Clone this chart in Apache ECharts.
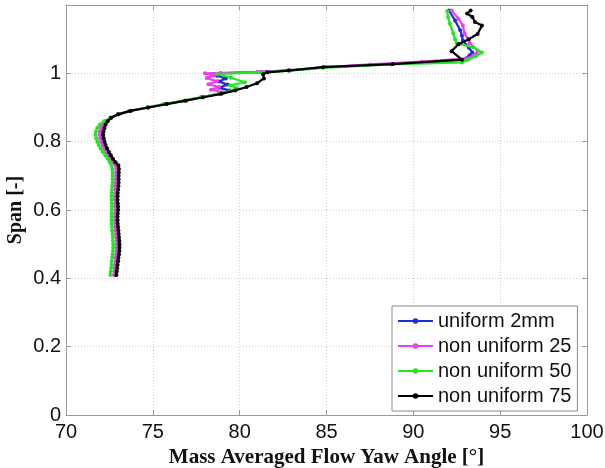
<!DOCTYPE html>
<html>
<head>
<meta charset="utf-8">
<script src="https://cdn.jsdelivr.net/npm/echarts@6/dist/echarts.min.js"></script>
<style>html,body{margin:0;padding:0;background:#fff}#c{width:605px;height:468px}</style>
</head>
<body>
<div id="c"></div>
<script>
// ---- data ----
const seriesNames = ['uniform 2mm', 'non uniform 25', 'non uniform 50', 'non uniform 75'];
const xTicks = [70, 75, 80, 85, 90, 95, 100];
const yTicks = [0, 0.2, 0.4, 0.6, 0.8, 1];

const spanLower = [0.41,0.42,0.43,0.44,0.45,0.46,0.47,0.48,0.49,0.50,
  0.51,0.52,0.53,0.54,0.55,0.56,0.57,0.58,0.59,0.60,
  0.61,0.62,0.63,0.64,0.65,0.66,0.67,0.68,0.69,0.70,
  0.71,0.72,0.73,0.74,0.75,0.76,0.77,0.78,0.79,0.80,
  0.81,0.82,0.83,0.84,0.85,0.86,0.87,0.88,0.89,0.90,
  0.91,0.92,0.93,0.94];

// uniform 2mm (blue)
const blueLower = [72.80,72.82,72.84,72.86,72.88,72.90,72.92,72.95,72.96,72.96,
  72.95,72.93,72.92,72.90,72.88,72.86,72.85,72.85,72.86,72.87,
  72.87,72.86,72.85,72.85,72.86,72.88,72.89,72.90,72.91,72.91,
  72.92,72.92,72.88,72.74,72.60,72.47,72.35,72.23,72.13,72.05,
  72.00,71.97,71.99,72.05,72.15,72.32,72.58,73.02,73.70,74.70,
  75.72,76.82,77.82,78.85];
const blueSpanUpper = [0.95,0.958,0.967,0.976,0.985,0.993,1.000,1.004,1.009,1.018,1.027,1.040,1.053,1.061,1.075,1.096,1.110,1.126,1.155,1.184];
const blueUpper = [79.40,78.80,79.30,78.80,79.20,78.70,78.90,81.20,82.90,84.90,88.80,92.85,93.25,93.40,93.20,92.85,92.80,92.70,92.40,92.05];

// non uniform 25 (magenta)
const magLower = [72.76,72.79,72.81,72.83,72.85,72.87,72.89,72.91,72.93,72.93,
  72.92,72.90,72.88,72.87,72.85,72.83,72.82,72.82,72.83,72.84,
  72.84,72.83,72.82,72.82,72.83,72.85,72.86,72.87,72.88,72.88,
  72.89,72.89,72.85,72.71,72.57,72.44,72.32,72.20,72.10,72.02,
  71.97,71.94,71.96,72.02,72.12,72.30,72.56,73.00,73.68,74.68,
  75.70,76.80,77.80,78.80];
const magSpanUpper = [0.945,0.952,0.960,0.968,0.977,0.986,0.994,1.000,1.004,1.009,1.018,1.026,1.034,1.044,1.058,1.067,1.088,1.117,1.140,1.160,1.184];
const magUpper = [79.00,78.35,78.80,78.20,78.70,78.10,78.50,78.00,81.00,82.90,85.00,87.50,90.50,93.15,93.65,93.70,93.25,92.95,92.85,92.60,92.20];

// non uniform 50 (green)
const greenLower = [72.55,72.58,72.60,72.62,72.63,72.66,72.68,72.70,72.72,72.72,
  72.70,72.70,72.68,72.66,72.65,72.63,72.62,72.62,72.63,72.64,
  72.65,72.64,72.62,72.62,72.63,72.65,72.66,72.68,72.68,72.68,
  72.68,72.66,72.62,72.52,72.40,72.26,72.12,71.98,71.88,71.80,
  71.74,71.70,71.72,71.80,71.95,72.20,72.55,73.05,73.72,74.65,
  75.65,76.75,77.75,78.80];
const greenSpanUpper = [0.95,0.956,0.965,0.974,0.987,0.998,1.003,1.008,1.016,1.026,1.032,1.040,1.050,1.061,1.076,1.088,1.100,1.117,1.146,1.165,1.182];
const greenUpper = [79.55,79.85,79.45,80.30,79.50,78.70,81.20,82.90,84.80,88.70,92.80,93.15,93.60,93.95,93.45,92.50,92.40,92.30,92.10,92.00,91.95];

// non uniform 75 (black)
const blackLower = [72.90,72.92,72.95,72.97,73.00,73.02,73.05,73.07,73.08,73.08,
  73.07,73.05,73.03,73.02,73.00,72.98,72.97,72.97,72.98,73.00,
  73.00,72.98,72.97,72.97,72.98,73.00,73.02,73.03,73.03,73.03,
  73.04,73.05,73.02,72.85,72.70,72.58,72.47,72.37,72.28,72.22,
  72.17,72.14,72.16,72.22,72.28,72.40,72.60,73.00,73.70,74.75,
  75.80,76.90,77.90,78.95];
const blackSpanUpper = [0.95,0.96,0.971,0.985,0.997,1.003,1.008,1.018,1.027,1.040,1.065,1.085,1.100,1.115,1.140,1.150,1.165,1.175,1.184];
const blackUpper = [79.75,80.40,81.00,81.40,81.35,81.60,82.80,84.80,88.80,92.80,92.20,92.60,93.20,93.70,93.95,93.55,93.40,93.10,93.30];

// ---- build ----
function pairs(lowA, upSpan, upA) {
  const sp = spanLower.concat(upSpan);
  const an = lowA.concat(upA);
  return an.map((a, i) => [a, sp[i]]);
}
const colors = ['#1c2fd6', '#f03cf0', '#22e622', '#000000'];
const datasets = [
  pairs(blueLower, blueSpanUpper, blueUpper),
  pairs(magLower, magSpanUpper, magUpper),
  pairs(greenLower, greenSpanUpper, greenUpper),
  pairs(blackLower, blackSpanUpper, blackUpper)
];

const sans = 'Liberation Sans, Arial, sans-serif';
const serif = 'Liberation Serif, Times New Roman, serif';
const axisGray = '#9a9a9a';

const chart = echarts.init(document.getElementById('c'), null, {renderer: 'canvas'});
chart.setOption({
  animation: false,
  backgroundColor: '#ffffff',
  grid: {left: 66, right: 18, top: 5, bottom: 53, containLabel: false, outerBoundsMode: 'none'},
  legend: {
    orient: 'vertical', left: 392, top: 306,
    padding: [4, 6, 4, 5],
    itemWidth: 35, itemHeight: 7, itemGap: 3,
    borderColor: '#8a8a8a', borderWidth: 1, backgroundColor: '#ffffff',
    textStyle: {fontFamily: sans, fontSize: 20, color: '#111', lineHeight: 22},
    data: seriesNames
  },
  xAxis: [{
    type: 'value', min: xTicks[0], max: xTicks[xTicks.length - 1], interval: 5,
    name: 'Mass Averaged Flow Yaw Angle [°]', nameLocation: 'middle', nameGap: 29,
    nameTextStyle: {fontFamily: serif, fontWeight: 'bold', fontSize: 21, color: '#111'},
    axisLine: {show: true, onZero: false, lineStyle: {color: axisGray}},
    axisTick: {show: true, inside: true, length: 5, lineStyle: {color: axisGray}},
    axisLabel: {fontFamily: sans, fontSize: 20, color: '#111', margin: 7,
      formatter: v => xTicks.includes(v) ? String(v) : ''},
    splitLine: {show: true, lineStyle: {color: '#cfcfcf', type: [1, 2]}}
  }, {
    type: 'value', position: 'top', min: 70, max: 100, interval: 5,
    axisLine: {show: true, onZero: false, lineStyle: {color: axisGray}},
    axisTick: {show: true, inside: true, length: 5, lineStyle: {color: axisGray}},
    axisLabel: {show: false}, splitLine: {show: false}
  }],
  yAxis: [{
    type: 'value', min: 0, max: 1.2, interval: 0.2,
    name: 'Span [-]', nameLocation: 'middle', nameGap: 40, nameMoveOverlap: false,
    nameTextStyle: {fontFamily: serif, fontWeight: 'bold', fontSize: 20, color: '#111'},
    axisLine: {show: true, onZero: false, lineStyle: {color: axisGray}},
    axisTick: {show: true, inside: true, length: 5, lineStyle: {color: axisGray}},
    axisLabel: {fontFamily: sans, fontSize: 20, color: '#111', margin: 5,
      formatter: v => yTicks.some(t => Math.abs(t - v) < 1e-9) ? String(+v.toFixed(1)) : ''},
    splitLine: {show: true, lineStyle: {color: '#cfcfcf', type: [1, 2]}}
  }, {
    type: 'value', position: 'right', min: 0, max: 1.2, interval: 0.2,
    axisLine: {show: true, onZero: false, lineStyle: {color: axisGray}},
    axisTick: {show: true, inside: true, length: 5, lineStyle: {color: axisGray}},
    axisLabel: {show: false}, splitLine: {show: false}
  }],
  series: seriesNames.map((n, i) => ({
    name: n, type: 'line', data: datasets[i],
    xAxisIndex: 0, yAxisIndex: 0,
    showSymbol: true, symbol: 'circle', symbolSize: 4,
    color: colors[i],
    lineStyle: {width: 2.2, color: colors[i]},
    itemStyle: {color: colors[i]},
    z: 2 + i
  }))
});
</script>
</body>
</html>
